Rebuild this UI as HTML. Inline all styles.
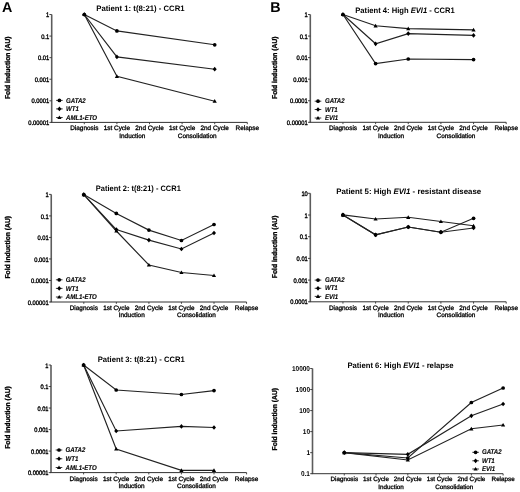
<!DOCTYPE html>
<html><head><meta charset="utf-8"><style>
html,body{margin:0;padding:0;background:#fff;}
body{width:520px;height:492px;overflow:hidden;}
svg{display:block;filter:blur(0.3px);}
text{font-family:"Liberation Sans", sans-serif;font-weight:bold;fill:#000;text-rendering:geometricPrecision;}
</style></head><body>
<svg width="520" height="492" viewBox="0 0 520 492">
<rect width="520" height="492" fill="#fff"/>
<g><path d="M51.70,14.50 V122.40" fill="none" stroke="#5c5c5c" stroke-width="1.6"/>
<path d="M50.90,122.40 H247.30" fill="none" stroke="#333" stroke-width="1"/>
<line x1="49.40" y1="14.50" x2="51.70" y2="14.50" stroke="#333" stroke-width="0.9"/>
<text x="49.20" y="17.10" text-anchor="end" font-size="6.55" textLength="3.23" lengthAdjust="spacingAndGlyphs" style="font-weight:normal;stroke:#000;stroke-width:0.35">1</text>
<line x1="49.40" y1="36.08" x2="51.70" y2="36.08" stroke="#333" stroke-width="0.9"/>
<text x="49.20" y="38.68" text-anchor="end" font-size="6.55" textLength="8.06" lengthAdjust="spacingAndGlyphs" style="font-weight:normal;stroke:#000;stroke-width:0.35">0.1</text>
<line x1="49.40" y1="57.66" x2="51.70" y2="57.66" stroke="#333" stroke-width="0.9"/>
<text x="49.20" y="60.26" text-anchor="end" font-size="6.55" textLength="11.29" lengthAdjust="spacingAndGlyphs" style="font-weight:normal;stroke:#000;stroke-width:0.35">0.01</text>
<line x1="49.40" y1="79.24" x2="51.70" y2="79.24" stroke="#333" stroke-width="0.9"/>
<text x="49.20" y="81.84" text-anchor="end" font-size="6.55" textLength="14.51" lengthAdjust="spacingAndGlyphs" style="font-weight:normal;stroke:#000;stroke-width:0.35">0.001</text>
<line x1="49.40" y1="100.82" x2="51.70" y2="100.82" stroke="#333" stroke-width="0.9"/>
<text x="49.20" y="103.42" text-anchor="end" font-size="6.55" textLength="17.74" lengthAdjust="spacingAndGlyphs" style="font-weight:normal;stroke:#000;stroke-width:0.35">0.0001</text>
<line x1="49.40" y1="122.40" x2="51.70" y2="122.40" stroke="#333" stroke-width="0.9"/>
<text x="49.20" y="125.00" text-anchor="end" font-size="6.55" textLength="20.96" lengthAdjust="spacingAndGlyphs" style="font-weight:normal;stroke:#000;stroke-width:0.35">0.00001</text>
<line x1="84.30" y1="122.40" x2="84.30" y2="124.20" stroke="#333" stroke-width="0.9"/>
<line x1="116.90" y1="122.40" x2="116.90" y2="124.20" stroke="#333" stroke-width="0.9"/>
<line x1="149.50" y1="122.40" x2="149.50" y2="124.20" stroke="#333" stroke-width="0.9"/>
<line x1="182.10" y1="122.40" x2="182.10" y2="124.20" stroke="#333" stroke-width="0.9"/>
<line x1="214.70" y1="122.40" x2="214.70" y2="124.20" stroke="#333" stroke-width="0.9"/>
<line x1="247.30" y1="122.40" x2="247.30" y2="124.20" stroke="#333" stroke-width="0.9"/>
<text x="84.30" y="130.40" text-anchor="middle" font-size="6.42" style="font-weight:normal;stroke:#000;stroke-width:0.3">Diagnosis</text>
<text x="116.90" y="130.40" text-anchor="middle" font-size="6.42" style="font-weight:normal;stroke:#000;stroke-width:0.3">1st Cycle</text>
<text x="149.50" y="130.40" text-anchor="middle" font-size="6.42" style="font-weight:normal;stroke:#000;stroke-width:0.3">2nd Cycle</text>
<text x="182.10" y="130.40" text-anchor="middle" font-size="6.42" style="font-weight:normal;stroke:#000;stroke-width:0.3">1st Cycle</text>
<text x="214.70" y="130.40" text-anchor="middle" font-size="6.42" style="font-weight:normal;stroke:#000;stroke-width:0.3">2nd Cycle</text>
<text x="247.30" y="130.40" text-anchor="middle" font-size="6.42" style="font-weight:normal;stroke:#000;stroke-width:0.3">Relapse</text>
<text x="132.30" y="137.80" text-anchor="middle" font-size="6.42" style="font-weight:normal;stroke:#000;stroke-width:0.3">Induction</text>
<text x="197.20" y="137.80" text-anchor="middle" font-size="6.42" style="font-weight:normal;stroke:#000;stroke-width:0.3">Consolidation</text>
<text transform="translate(9.70,67.80) rotate(-90) scale(1,1.05)" text-anchor="middle" font-size="6.75" style="stroke:#000;stroke-width:0.3">Fold induction (AU)</text>
<text x="96.30" y="11.40" font-size="7.9" textLength="88.3" lengthAdjust="spacingAndGlyphs"><tspan>Patient 1: t(8:21) - CCR1</tspan></text>
<path d="M84.30,14.50 L116.90,30.90 L214.70,44.80" fill="none" stroke="#222" stroke-width="1.15"/>
<path d="M84.30,14.50 L116.90,56.90 L214.70,69.20" fill="none" stroke="#222" stroke-width="1.15"/>
<path d="M84.30,14.50 L116.90,76.30 L214.70,101.20" fill="none" stroke="#222" stroke-width="1.15"/>
<circle cx="84.30" cy="14.50" r="1.85" fill="#000"/>
<circle cx="116.90" cy="30.90" r="1.85" fill="#000"/>
<circle cx="214.70" cy="44.80" r="1.85" fill="#000"/>
<path d="M84.30,12.15 L86.30,14.50 L84.30,16.85 L82.30,14.50 Z" fill="#000"/>
<path d="M116.90,54.55 L118.90,56.90 L116.90,59.25 L114.90,56.90 Z" fill="#000"/>
<path d="M214.70,66.85 L216.70,69.20 L214.70,71.55 L212.70,69.20 Z" fill="#000"/>
<path d="M84.30,12.40 L86.40,16.07 L82.20,16.07 Z" fill="#000"/>
<path d="M116.90,74.20 L119.00,77.88 L114.80,77.88 Z" fill="#000"/>
<path d="M214.70,99.10 L216.80,102.78 L212.60,102.78 Z" fill="#000"/>
<line x1="56.10" y1="100.40" x2="62.70" y2="100.40" stroke="#222" stroke-width="0.9"/>
<circle cx="59.40" cy="100.40" r="1.85" fill="#000"/>
<text x="66.00" y="102.50" font-size="6.83" textLength="19.77" lengthAdjust="spacingAndGlyphs" font-style="italic" style="stroke:#000;stroke-width:0.12">GATA2</text>
<line x1="56.10" y1="108.90" x2="62.70" y2="108.90" stroke="#222" stroke-width="0.9"/>
<path d="M59.40,106.55 L61.40,108.90 L59.40,111.25 L57.40,108.90 Z" fill="#000"/>
<text x="66.00" y="111.00" font-size="6.83" textLength="12.88" lengthAdjust="spacingAndGlyphs" font-style="italic" style="stroke:#000;stroke-width:0.12">WT1</text>
<line x1="56.10" y1="117.50" x2="62.70" y2="117.50" stroke="#222" stroke-width="0.9"/>
<path d="M59.40,115.40 L61.50,119.08 L57.30,119.08 Z" fill="#000"/>
<text x="66.00" y="119.60" font-size="6.83" textLength="31.06" lengthAdjust="spacingAndGlyphs" font-style="italic" style="stroke:#000;stroke-width:0.12">AML1-ETO</text>
<text x="2.00" y="12.00" font-size="14.3">A</text></g>
<g><path d="M51.25,194.40 V302.00" fill="none" stroke="#5c5c5c" stroke-width="1.6"/>
<path d="M50.45,302.00 H246.55" fill="none" stroke="#333" stroke-width="1"/>
<line x1="48.95" y1="194.40" x2="51.25" y2="194.40" stroke="#333" stroke-width="0.9"/>
<text x="48.75" y="197.00" text-anchor="end" font-size="6.55" textLength="3.23" lengthAdjust="spacingAndGlyphs" style="font-weight:normal;stroke:#000;stroke-width:0.35">1</text>
<line x1="48.95" y1="215.92" x2="51.25" y2="215.92" stroke="#333" stroke-width="0.9"/>
<text x="48.75" y="218.52" text-anchor="end" font-size="6.55" textLength="8.06" lengthAdjust="spacingAndGlyphs" style="font-weight:normal;stroke:#000;stroke-width:0.35">0.1</text>
<line x1="48.95" y1="237.44" x2="51.25" y2="237.44" stroke="#333" stroke-width="0.9"/>
<text x="48.75" y="240.04" text-anchor="end" font-size="6.55" textLength="11.29" lengthAdjust="spacingAndGlyphs" style="font-weight:normal;stroke:#000;stroke-width:0.35">0.01</text>
<line x1="48.95" y1="258.96" x2="51.25" y2="258.96" stroke="#333" stroke-width="0.9"/>
<text x="48.75" y="261.56" text-anchor="end" font-size="6.55" textLength="14.51" lengthAdjust="spacingAndGlyphs" style="font-weight:normal;stroke:#000;stroke-width:0.35">0.001</text>
<line x1="48.95" y1="280.48" x2="51.25" y2="280.48" stroke="#333" stroke-width="0.9"/>
<text x="48.75" y="283.08" text-anchor="end" font-size="6.55" textLength="17.74" lengthAdjust="spacingAndGlyphs" style="font-weight:normal;stroke:#000;stroke-width:0.35">0.0001</text>
<line x1="48.95" y1="302.00" x2="51.25" y2="302.00" stroke="#333" stroke-width="0.9"/>
<text x="48.75" y="304.60" text-anchor="end" font-size="6.55" textLength="20.96" lengthAdjust="spacingAndGlyphs" style="font-weight:normal;stroke:#000;stroke-width:0.35">0.00001</text>
<line x1="83.80" y1="302.00" x2="83.80" y2="303.80" stroke="#333" stroke-width="0.9"/>
<line x1="116.35" y1="302.00" x2="116.35" y2="303.80" stroke="#333" stroke-width="0.9"/>
<line x1="148.90" y1="302.00" x2="148.90" y2="303.80" stroke="#333" stroke-width="0.9"/>
<line x1="181.45" y1="302.00" x2="181.45" y2="303.80" stroke="#333" stroke-width="0.9"/>
<line x1="214.00" y1="302.00" x2="214.00" y2="303.80" stroke="#333" stroke-width="0.9"/>
<line x1="246.55" y1="302.00" x2="246.55" y2="303.80" stroke="#333" stroke-width="0.9"/>
<text x="83.80" y="310.00" text-anchor="middle" font-size="6.42" style="font-weight:normal;stroke:#000;stroke-width:0.3">Diagnosis</text>
<text x="116.35" y="310.00" text-anchor="middle" font-size="6.42" style="font-weight:normal;stroke:#000;stroke-width:0.3">1st Cycle</text>
<text x="148.90" y="310.00" text-anchor="middle" font-size="6.42" style="font-weight:normal;stroke:#000;stroke-width:0.3">2nd Cycle</text>
<text x="181.45" y="310.00" text-anchor="middle" font-size="6.42" style="font-weight:normal;stroke:#000;stroke-width:0.3">1st Cycle</text>
<text x="214.00" y="310.00" text-anchor="middle" font-size="6.42" style="font-weight:normal;stroke:#000;stroke-width:0.3">2nd Cycle</text>
<text x="246.55" y="310.00" text-anchor="middle" font-size="6.42" style="font-weight:normal;stroke:#000;stroke-width:0.3">Relapse</text>
<text x="131.72" y="317.40" text-anchor="middle" font-size="6.42" style="font-weight:normal;stroke:#000;stroke-width:0.3">Induction</text>
<text x="196.53" y="317.40" text-anchor="middle" font-size="6.42" style="font-weight:normal;stroke:#000;stroke-width:0.3">Consolidation</text>
<text transform="translate(9.70,247.30) rotate(-90) scale(1,1.05)" text-anchor="middle" font-size="6.75" style="stroke:#000;stroke-width:0.3">Fold induction (AU)</text>
<text x="95.80" y="191.40" font-size="7.9" textLength="85.0" lengthAdjust="spacingAndGlyphs"><tspan>Patient 2: t(8:21) - CCR1</tspan></text>
<path d="M83.80,194.60 L116.35,213.40 L148.90,230.10 L181.45,240.50 L214.00,224.50" fill="none" stroke="#222" stroke-width="1.15"/>
<path d="M83.80,194.60 L116.35,229.60 L148.90,240.10 L181.45,249.00 L214.00,233.00" fill="none" stroke="#222" stroke-width="1.15"/>
<path d="M83.80,194.60 L116.35,231.00 L148.90,265.00 L181.45,272.50 L214.00,275.50" fill="none" stroke="#222" stroke-width="1.15"/>
<circle cx="83.80" cy="194.60" r="1.85" fill="#000"/>
<circle cx="116.35" cy="213.40" r="1.85" fill="#000"/>
<circle cx="148.90" cy="230.10" r="1.85" fill="#000"/>
<circle cx="181.45" cy="240.50" r="1.85" fill="#000"/>
<circle cx="214.00" cy="224.50" r="1.85" fill="#000"/>
<path d="M83.80,192.25 L85.80,194.60 L83.80,196.95 L81.80,194.60 Z" fill="#000"/>
<path d="M116.35,227.25 L118.35,229.60 L116.35,231.95 L114.35,229.60 Z" fill="#000"/>
<path d="M148.90,237.75 L150.90,240.10 L148.90,242.45 L146.90,240.10 Z" fill="#000"/>
<path d="M181.45,246.65 L183.45,249.00 L181.45,251.35 L179.45,249.00 Z" fill="#000"/>
<path d="M214.00,230.65 L216.00,233.00 L214.00,235.35 L212.00,233.00 Z" fill="#000"/>
<path d="M83.80,192.50 L85.90,196.17 L81.70,196.17 Z" fill="#000"/>
<path d="M116.35,228.90 L118.45,232.57 L114.25,232.57 Z" fill="#000"/>
<path d="M148.90,262.90 L151.00,266.57 L146.80,266.57 Z" fill="#000"/>
<path d="M181.45,270.40 L183.55,274.07 L179.35,274.07 Z" fill="#000"/>
<path d="M214.00,273.40 L216.10,277.07 L211.90,277.07 Z" fill="#000"/>
<line x1="55.90" y1="279.80" x2="62.50" y2="279.80" stroke="#222" stroke-width="0.9"/>
<circle cx="59.20" cy="279.80" r="1.85" fill="#000"/>
<text x="65.80" y="281.90" font-size="6.83" textLength="19.77" lengthAdjust="spacingAndGlyphs" font-style="italic" style="stroke:#000;stroke-width:0.12">GATA2</text>
<line x1="55.90" y1="288.40" x2="62.50" y2="288.40" stroke="#222" stroke-width="0.9"/>
<path d="M59.20,286.05 L61.20,288.40 L59.20,290.75 L57.20,288.40 Z" fill="#000"/>
<text x="65.80" y="290.50" font-size="6.83" textLength="12.88" lengthAdjust="spacingAndGlyphs" font-style="italic" style="stroke:#000;stroke-width:0.12">WT1</text>
<line x1="55.90" y1="297.00" x2="62.50" y2="297.00" stroke="#222" stroke-width="0.9"/>
<path d="M59.20,294.90 L61.30,298.57 L57.10,298.57 Z" fill="#000"/>
<text x="65.80" y="299.10" font-size="6.83" textLength="31.06" lengthAdjust="spacingAndGlyphs" font-style="italic" style="stroke:#000;stroke-width:0.12">AML1-ETO</text></g>
<g><path d="M51.00,365.00 V472.60" fill="none" stroke="#5c5c5c" stroke-width="1.6"/>
<path d="M50.20,472.60 H246.60" fill="none" stroke="#333" stroke-width="1"/>
<line x1="48.70" y1="365.00" x2="51.00" y2="365.00" stroke="#333" stroke-width="0.9"/>
<text x="48.50" y="367.60" text-anchor="end" font-size="6.44" textLength="3.17" lengthAdjust="spacingAndGlyphs" style="font-weight:normal;stroke:#000;stroke-width:0.35">1</text>
<line x1="48.70" y1="386.52" x2="51.00" y2="386.52" stroke="#333" stroke-width="0.9"/>
<text x="48.50" y="389.12" text-anchor="end" font-size="6.44" textLength="7.92" lengthAdjust="spacingAndGlyphs" style="font-weight:normal;stroke:#000;stroke-width:0.35">0.1</text>
<line x1="48.70" y1="408.04" x2="51.00" y2="408.04" stroke="#333" stroke-width="0.9"/>
<text x="48.50" y="410.64" text-anchor="end" font-size="6.44" textLength="11.09" lengthAdjust="spacingAndGlyphs" style="font-weight:normal;stroke:#000;stroke-width:0.35">0.01</text>
<line x1="48.70" y1="429.56" x2="51.00" y2="429.56" stroke="#333" stroke-width="0.9"/>
<text x="48.50" y="432.16" text-anchor="end" font-size="6.44" textLength="14.26" lengthAdjust="spacingAndGlyphs" style="font-weight:normal;stroke:#000;stroke-width:0.35">0.001</text>
<line x1="48.70" y1="451.08" x2="51.00" y2="451.08" stroke="#333" stroke-width="0.9"/>
<text x="48.50" y="453.68" text-anchor="end" font-size="6.44" textLength="17.43" lengthAdjust="spacingAndGlyphs" style="font-weight:normal;stroke:#000;stroke-width:0.35">0.0001</text>
<line x1="48.70" y1="472.60" x2="51.00" y2="472.60" stroke="#333" stroke-width="0.9"/>
<text x="48.50" y="475.20" text-anchor="end" font-size="6.44" textLength="20.60" lengthAdjust="spacingAndGlyphs" style="font-weight:normal;stroke:#000;stroke-width:0.35">0.00001</text>
<line x1="83.60" y1="472.60" x2="83.60" y2="474.40" stroke="#333" stroke-width="0.9"/>
<line x1="116.20" y1="472.60" x2="116.20" y2="474.40" stroke="#333" stroke-width="0.9"/>
<line x1="148.80" y1="472.60" x2="148.80" y2="474.40" stroke="#333" stroke-width="0.9"/>
<line x1="181.40" y1="472.60" x2="181.40" y2="474.40" stroke="#333" stroke-width="0.9"/>
<line x1="214.00" y1="472.60" x2="214.00" y2="474.40" stroke="#333" stroke-width="0.9"/>
<line x1="246.60" y1="472.60" x2="246.60" y2="474.40" stroke="#333" stroke-width="0.9"/>
<text x="83.60" y="480.60" text-anchor="middle" font-size="6.42" style="font-weight:normal;stroke:#000;stroke-width:0.3">Diagnosis</text>
<text x="116.20" y="480.60" text-anchor="middle" font-size="6.42" style="font-weight:normal;stroke:#000;stroke-width:0.3">1st Cycle</text>
<text x="148.80" y="480.60" text-anchor="middle" font-size="6.42" style="font-weight:normal;stroke:#000;stroke-width:0.3">2nd Cycle</text>
<text x="181.40" y="480.60" text-anchor="middle" font-size="6.42" style="font-weight:normal;stroke:#000;stroke-width:0.3">1st Cycle</text>
<text x="214.00" y="480.60" text-anchor="middle" font-size="6.42" style="font-weight:normal;stroke:#000;stroke-width:0.3">2nd Cycle</text>
<text x="246.60" y="480.60" text-anchor="middle" font-size="6.42" style="font-weight:normal;stroke:#000;stroke-width:0.3">Relapse</text>
<text x="131.60" y="488.00" text-anchor="middle" font-size="6.42" style="font-weight:normal;stroke:#000;stroke-width:0.3">Induction</text>
<text x="196.50" y="488.00" text-anchor="middle" font-size="6.42" style="font-weight:normal;stroke:#000;stroke-width:0.3">Consolidation</text>
<text transform="translate(9.70,417.50) rotate(-90) scale(1,1.05)" text-anchor="middle" font-size="6.75" style="stroke:#000;stroke-width:0.3">Fold induction (AU)</text>
<text x="97.70" y="362.10" font-size="7.9" textLength="87.1" lengthAdjust="spacingAndGlyphs"><tspan>Patient 3: t(8:21) - CCR1</tspan></text>
<path d="M83.60,365.00 L116.20,390.00 L181.40,394.50 L214.00,390.60" fill="none" stroke="#222" stroke-width="1.15"/>
<path d="M83.60,365.00 L116.20,431.00 L181.40,426.40 L214.00,427.50" fill="none" stroke="#222" stroke-width="1.15"/>
<path d="M83.60,365.00 L116.20,449.00 L181.40,470.40 L214.00,470.40" fill="none" stroke="#222" stroke-width="1.15"/>
<circle cx="83.60" cy="365.00" r="1.85" fill="#000"/>
<circle cx="116.20" cy="390.00" r="1.85" fill="#000"/>
<circle cx="181.40" cy="394.50" r="1.85" fill="#000"/>
<circle cx="214.00" cy="390.60" r="1.85" fill="#000"/>
<path d="M83.60,362.65 L85.60,365.00 L83.60,367.35 L81.60,365.00 Z" fill="#000"/>
<path d="M116.20,428.65 L118.20,431.00 L116.20,433.35 L114.20,431.00 Z" fill="#000"/>
<path d="M181.40,424.05 L183.40,426.40 L181.40,428.75 L179.40,426.40 Z" fill="#000"/>
<path d="M214.00,425.15 L216.00,427.50 L214.00,429.85 L212.00,427.50 Z" fill="#000"/>
<path d="M83.60,362.90 L85.70,366.57 L81.50,366.57 Z" fill="#000"/>
<path d="M116.20,446.90 L118.30,450.57 L114.10,450.57 Z" fill="#000"/>
<path d="M181.40,468.30 L183.50,471.97 L179.30,471.97 Z" fill="#000"/>
<path d="M214.00,468.30 L216.10,471.97 L211.90,471.97 Z" fill="#000"/>
<line x1="55.70" y1="450.00" x2="62.30" y2="450.00" stroke="#222" stroke-width="0.9"/>
<circle cx="59.00" cy="450.00" r="1.85" fill="#000"/>
<text x="65.60" y="452.10" font-size="6.83" textLength="19.77" lengthAdjust="spacingAndGlyphs" font-style="italic" style="stroke:#000;stroke-width:0.12">GATA2</text>
<line x1="55.70" y1="458.75" x2="62.30" y2="458.75" stroke="#222" stroke-width="0.9"/>
<path d="M59.00,456.40 L61.00,458.75 L59.00,461.10 L57.00,458.75 Z" fill="#000"/>
<text x="65.60" y="460.85" font-size="6.83" textLength="12.88" lengthAdjust="spacingAndGlyphs" font-style="italic" style="stroke:#000;stroke-width:0.12">WT1</text>
<line x1="55.70" y1="467.50" x2="62.30" y2="467.50" stroke="#222" stroke-width="0.9"/>
<path d="M59.00,465.40 L61.10,469.07 L56.90,469.07 Z" fill="#000"/>
<text x="65.60" y="469.60" font-size="6.83" textLength="31.06" lengthAdjust="spacingAndGlyphs" font-style="italic" style="stroke:#000;stroke-width:0.12">AML1-ETO</text></g>
<g><path d="M310.30,14.50 V122.30" fill="none" stroke="#5c5c5c" stroke-width="1.6"/>
<path d="M309.50,122.30 H506.20" fill="none" stroke="#333" stroke-width="1"/>
<line x1="308.00" y1="14.50" x2="310.30" y2="14.50" stroke="#333" stroke-width="0.9"/>
<text x="307.80" y="17.10" text-anchor="end" font-size="6.55" textLength="3.23" lengthAdjust="spacingAndGlyphs" style="font-weight:normal;stroke:#000;stroke-width:0.35">1</text>
<line x1="308.00" y1="36.06" x2="310.30" y2="36.06" stroke="#333" stroke-width="0.9"/>
<text x="307.80" y="38.66" text-anchor="end" font-size="6.55" textLength="8.06" lengthAdjust="spacingAndGlyphs" style="font-weight:normal;stroke:#000;stroke-width:0.35">0.1</text>
<line x1="308.00" y1="57.62" x2="310.30" y2="57.62" stroke="#333" stroke-width="0.9"/>
<text x="307.80" y="60.22" text-anchor="end" font-size="6.55" textLength="11.29" lengthAdjust="spacingAndGlyphs" style="font-weight:normal;stroke:#000;stroke-width:0.35">0.01</text>
<line x1="308.00" y1="79.18" x2="310.30" y2="79.18" stroke="#333" stroke-width="0.9"/>
<text x="307.80" y="81.78" text-anchor="end" font-size="6.55" textLength="14.51" lengthAdjust="spacingAndGlyphs" style="font-weight:normal;stroke:#000;stroke-width:0.35">0.001</text>
<line x1="308.00" y1="100.74" x2="310.30" y2="100.74" stroke="#333" stroke-width="0.9"/>
<text x="307.80" y="103.34" text-anchor="end" font-size="6.55" textLength="17.74" lengthAdjust="spacingAndGlyphs" style="font-weight:normal;stroke:#000;stroke-width:0.35">0.0001</text>
<line x1="308.00" y1="122.30" x2="310.30" y2="122.30" stroke="#333" stroke-width="0.9"/>
<text x="307.80" y="124.90" text-anchor="end" font-size="6.55" textLength="20.96" lengthAdjust="spacingAndGlyphs" style="font-weight:normal;stroke:#000;stroke-width:0.35">0.00001</text>
<line x1="342.95" y1="122.30" x2="342.95" y2="124.10" stroke="#333" stroke-width="0.9"/>
<line x1="375.60" y1="122.30" x2="375.60" y2="124.10" stroke="#333" stroke-width="0.9"/>
<line x1="408.25" y1="122.30" x2="408.25" y2="124.10" stroke="#333" stroke-width="0.9"/>
<line x1="440.90" y1="122.30" x2="440.90" y2="124.10" stroke="#333" stroke-width="0.9"/>
<line x1="473.55" y1="122.30" x2="473.55" y2="124.10" stroke="#333" stroke-width="0.9"/>
<line x1="506.20" y1="122.30" x2="506.20" y2="124.10" stroke="#333" stroke-width="0.9"/>
<text x="342.95" y="130.30" text-anchor="middle" font-size="6.42" style="font-weight:normal;stroke:#000;stroke-width:0.3">Diagnosis</text>
<text x="375.60" y="130.30" text-anchor="middle" font-size="6.42" style="font-weight:normal;stroke:#000;stroke-width:0.3">1st Cycle</text>
<text x="408.25" y="130.30" text-anchor="middle" font-size="6.42" style="font-weight:normal;stroke:#000;stroke-width:0.3">2nd Cycle</text>
<text x="440.90" y="130.30" text-anchor="middle" font-size="6.42" style="font-weight:normal;stroke:#000;stroke-width:0.3">1st Cycle</text>
<text x="473.55" y="130.30" text-anchor="middle" font-size="6.42" style="font-weight:normal;stroke:#000;stroke-width:0.3">2nd Cycle</text>
<text x="506.20" y="130.30" text-anchor="middle" font-size="6.42" style="font-weight:normal;stroke:#000;stroke-width:0.3">Relapse</text>
<text x="391.03" y="137.70" text-anchor="middle" font-size="6.42" style="font-weight:normal;stroke:#000;stroke-width:0.3">Induction</text>
<text x="456.03" y="137.70" text-anchor="middle" font-size="6.42" style="font-weight:normal;stroke:#000;stroke-width:0.3">Consolidation</text>
<text transform="translate(277.40,67.70) rotate(-90) scale(1,1.05)" text-anchor="middle" font-size="6.75" style="stroke:#000;stroke-width:0.3">Fold induction (AU)</text>
<text x="355.30" y="13.30" font-size="7.9" textLength="99.4" lengthAdjust="spacingAndGlyphs"><tspan>Patient 4: High </tspan><tspan font-style="italic">EVI1</tspan><tspan> - CCR1</tspan></text>
<path d="M342.95,14.50 L375.60,63.60 L408.25,59.00 L473.55,59.60" fill="none" stroke="#222" stroke-width="1.15"/>
<path d="M342.95,14.50 L375.60,43.80 L408.25,33.60 L473.55,35.40" fill="none" stroke="#222" stroke-width="1.15"/>
<path d="M342.95,14.50 L375.60,25.80 L408.25,28.60 L473.55,29.90" fill="none" stroke="#222" stroke-width="1.15"/>
<circle cx="342.95" cy="14.50" r="1.85" fill="#000"/>
<circle cx="375.60" cy="63.60" r="1.85" fill="#000"/>
<circle cx="408.25" cy="59.00" r="1.85" fill="#000"/>
<circle cx="473.55" cy="59.60" r="1.85" fill="#000"/>
<path d="M342.95,12.15 L344.95,14.50 L342.95,16.85 L340.95,14.50 Z" fill="#000"/>
<path d="M375.60,41.45 L377.60,43.80 L375.60,46.15 L373.60,43.80 Z" fill="#000"/>
<path d="M408.25,31.25 L410.25,33.60 L408.25,35.95 L406.25,33.60 Z" fill="#000"/>
<path d="M473.55,33.05 L475.55,35.40 L473.55,37.75 L471.55,35.40 Z" fill="#000"/>
<path d="M342.95,12.40 L345.05,16.07 L340.85,16.07 Z" fill="#000"/>
<path d="M375.60,23.70 L377.70,27.38 L373.50,27.38 Z" fill="#000"/>
<path d="M408.25,26.50 L410.35,30.18 L406.15,30.18 Z" fill="#000"/>
<path d="M473.55,27.80 L475.65,31.47 L471.45,31.47 Z" fill="#000"/>
<line x1="314.70" y1="101.20" x2="321.30" y2="101.20" stroke="#222" stroke-width="0.9"/>
<circle cx="318.00" cy="101.20" r="1.85" fill="#000"/>
<text x="324.90" y="103.30" font-size="6.83" textLength="19.77" lengthAdjust="spacingAndGlyphs" font-style="italic" style="stroke:#000;stroke-width:0.12">GATA2</text>
<line x1="314.70" y1="109.50" x2="321.30" y2="109.50" stroke="#222" stroke-width="0.9"/>
<path d="M318.00,107.15 L320.00,109.50 L318.00,111.85 L316.00,109.50 Z" fill="#000"/>
<text x="324.90" y="111.60" font-size="6.83" textLength="12.88" lengthAdjust="spacingAndGlyphs" font-style="italic" style="stroke:#000;stroke-width:0.12">WT1</text>
<line x1="314.70" y1="118.00" x2="321.30" y2="118.00" stroke="#222" stroke-width="0.9"/>
<path d="M318.00,115.90 L320.10,119.58 L315.90,119.58 Z" fill="#000"/>
<text x="324.90" y="120.10" font-size="6.83" textLength="13.22" lengthAdjust="spacingAndGlyphs" font-style="italic" style="stroke:#000;stroke-width:0.12">EVI1</text>
<text x="270.20" y="12.00" font-size="14.3">B</text></g>
<g><path d="M310.30,193.30 V301.80" fill="none" stroke="#5c5c5c" stroke-width="1.6"/>
<path d="M309.50,301.80 H506.20" fill="none" stroke="#333" stroke-width="1"/>
<line x1="308.00" y1="193.30" x2="310.30" y2="193.30" stroke="#333" stroke-width="0.9"/>
<text x="307.80" y="195.90" text-anchor="end" font-size="6.50" textLength="6.40" lengthAdjust="spacingAndGlyphs" style="font-weight:normal;stroke:#000;stroke-width:0.35">10</text>
<line x1="308.00" y1="215.00" x2="310.30" y2="215.00" stroke="#333" stroke-width="0.9"/>
<text x="307.80" y="217.60" text-anchor="end" font-size="6.50" textLength="3.20" lengthAdjust="spacingAndGlyphs" style="font-weight:normal;stroke:#000;stroke-width:0.35">1</text>
<line x1="308.00" y1="236.70" x2="310.30" y2="236.70" stroke="#333" stroke-width="0.9"/>
<text x="307.80" y="239.30" text-anchor="end" font-size="6.50" textLength="7.99" lengthAdjust="spacingAndGlyphs" style="font-weight:normal;stroke:#000;stroke-width:0.35">0.1</text>
<line x1="308.00" y1="258.40" x2="310.30" y2="258.40" stroke="#333" stroke-width="0.9"/>
<text x="307.80" y="261.00" text-anchor="end" font-size="6.50" textLength="11.19" lengthAdjust="spacingAndGlyphs" style="font-weight:normal;stroke:#000;stroke-width:0.35">0.01</text>
<line x1="308.00" y1="280.10" x2="310.30" y2="280.10" stroke="#333" stroke-width="0.9"/>
<text x="307.80" y="282.70" text-anchor="end" font-size="6.50" textLength="14.39" lengthAdjust="spacingAndGlyphs" style="font-weight:normal;stroke:#000;stroke-width:0.35">0.001</text>
<line x1="308.00" y1="301.80" x2="310.30" y2="301.80" stroke="#333" stroke-width="0.9"/>
<text x="307.80" y="304.40" text-anchor="end" font-size="6.50" textLength="17.59" lengthAdjust="spacingAndGlyphs" style="font-weight:normal;stroke:#000;stroke-width:0.35">0.0001</text>
<line x1="342.95" y1="301.80" x2="342.95" y2="303.60" stroke="#333" stroke-width="0.9"/>
<line x1="375.60" y1="301.80" x2="375.60" y2="303.60" stroke="#333" stroke-width="0.9"/>
<line x1="408.25" y1="301.80" x2="408.25" y2="303.60" stroke="#333" stroke-width="0.9"/>
<line x1="440.90" y1="301.80" x2="440.90" y2="303.60" stroke="#333" stroke-width="0.9"/>
<line x1="473.55" y1="301.80" x2="473.55" y2="303.60" stroke="#333" stroke-width="0.9"/>
<line x1="506.20" y1="301.80" x2="506.20" y2="303.60" stroke="#333" stroke-width="0.9"/>
<text x="342.95" y="309.80" text-anchor="middle" font-size="6.42" style="font-weight:normal;stroke:#000;stroke-width:0.3">Diagnosis</text>
<text x="375.60" y="309.80" text-anchor="middle" font-size="6.42" style="font-weight:normal;stroke:#000;stroke-width:0.3">1st Cycle</text>
<text x="408.25" y="309.80" text-anchor="middle" font-size="6.42" style="font-weight:normal;stroke:#000;stroke-width:0.3">2nd Cycle</text>
<text x="440.90" y="309.80" text-anchor="middle" font-size="6.42" style="font-weight:normal;stroke:#000;stroke-width:0.3">1st Cycle</text>
<text x="473.55" y="309.80" text-anchor="middle" font-size="6.42" style="font-weight:normal;stroke:#000;stroke-width:0.3">2nd Cycle</text>
<text x="506.20" y="309.80" text-anchor="middle" font-size="6.42" style="font-weight:normal;stroke:#000;stroke-width:0.3">Relapse</text>
<text x="391.03" y="317.20" text-anchor="middle" font-size="6.42" style="font-weight:normal;stroke:#000;stroke-width:0.3">Induction</text>
<text x="456.03" y="317.20" text-anchor="middle" font-size="6.42" style="font-weight:normal;stroke:#000;stroke-width:0.3">Consolidation</text>
<text transform="translate(277.40,246.90) rotate(-90) scale(1,1.05)" text-anchor="middle" font-size="6.75" style="stroke:#000;stroke-width:0.3">Fold induction (AU)</text>
<text x="336.20" y="193.80" font-size="7.9" textLength="145.0" lengthAdjust="spacingAndGlyphs"><tspan>Patient 5: High </tspan><tspan font-style="italic">EVI1</tspan><tspan> - resistant disease</tspan></text>
<path d="M342.95,214.90 L375.60,234.80 L408.25,227.00 L440.90,232.20 L473.55,218.30" fill="none" stroke="#222" stroke-width="1.15"/>
<path d="M342.95,214.90 L375.60,234.80 L408.25,227.00 L440.90,232.20 L473.55,228.00" fill="none" stroke="#222" stroke-width="1.15"/>
<path d="M342.95,214.90 L375.60,219.00 L408.25,217.30 L440.90,221.50 L473.55,225.80" fill="none" stroke="#222" stroke-width="1.15"/>
<circle cx="342.95" cy="214.90" r="1.85" fill="#000"/>
<circle cx="375.60" cy="234.80" r="1.85" fill="#000"/>
<circle cx="408.25" cy="227.00" r="1.85" fill="#000"/>
<circle cx="440.90" cy="232.20" r="1.85" fill="#000"/>
<circle cx="473.55" cy="218.30" r="1.85" fill="#000"/>
<path d="M342.95,212.55 L344.95,214.90 L342.95,217.25 L340.95,214.90 Z" fill="#000"/>
<path d="M375.60,232.45 L377.60,234.80 L375.60,237.15 L373.60,234.80 Z" fill="#000"/>
<path d="M408.25,224.65 L410.25,227.00 L408.25,229.35 L406.25,227.00 Z" fill="#000"/>
<path d="M440.90,229.85 L442.90,232.20 L440.90,234.55 L438.90,232.20 Z" fill="#000"/>
<path d="M473.55,225.65 L475.55,228.00 L473.55,230.35 L471.55,228.00 Z" fill="#000"/>
<path d="M342.95,212.80 L345.05,216.47 L340.85,216.47 Z" fill="#000"/>
<path d="M375.60,216.90 L377.70,220.57 L373.50,220.57 Z" fill="#000"/>
<path d="M408.25,215.20 L410.35,218.88 L406.15,218.88 Z" fill="#000"/>
<path d="M440.90,219.40 L443.00,223.07 L438.80,223.07 Z" fill="#000"/>
<path d="M473.55,223.70 L475.65,227.38 L471.45,227.38 Z" fill="#000"/>
<line x1="314.70" y1="280.10" x2="321.30" y2="280.10" stroke="#222" stroke-width="0.9"/>
<circle cx="318.00" cy="280.10" r="1.85" fill="#000"/>
<text x="324.90" y="282.20" font-size="6.83" textLength="19.77" lengthAdjust="spacingAndGlyphs" font-style="italic" style="stroke:#000;stroke-width:0.12">GATA2</text>
<line x1="314.70" y1="288.30" x2="321.30" y2="288.30" stroke="#222" stroke-width="0.9"/>
<path d="M318.00,285.95 L320.00,288.30 L318.00,290.65 L316.00,288.30 Z" fill="#000"/>
<text x="324.90" y="290.40" font-size="6.83" textLength="12.88" lengthAdjust="spacingAndGlyphs" font-style="italic" style="stroke:#000;stroke-width:0.12">WT1</text>
<line x1="314.70" y1="296.40" x2="321.30" y2="296.40" stroke="#222" stroke-width="0.9"/>
<path d="M318.00,294.30 L320.10,297.97 L315.90,297.97 Z" fill="#000"/>
<text x="324.90" y="298.50" font-size="6.83" textLength="13.22" lengthAdjust="spacingAndGlyphs" font-style="italic" style="stroke:#000;stroke-width:0.12">EVI1</text></g>
<g><path d="M312.50,368.50 V473.70" fill="none" stroke="#5c5c5c" stroke-width="1.6"/>
<path d="M311.70,473.70 H503.12" fill="none" stroke="#333" stroke-width="1"/>
<line x1="310.20" y1="368.50" x2="312.50" y2="368.50" stroke="#333" stroke-width="0.9"/>
<text x="310.00" y="371.10" text-anchor="end" font-size="7.02" textLength="18.07" lengthAdjust="spacingAndGlyphs" style="font-weight:bold">10000</text>
<line x1="310.20" y1="389.54" x2="312.50" y2="389.54" stroke="#333" stroke-width="0.9"/>
<text x="310.00" y="392.14" text-anchor="end" font-size="7.02" textLength="14.46" lengthAdjust="spacingAndGlyphs" style="font-weight:bold">1000</text>
<line x1="310.20" y1="410.58" x2="312.50" y2="410.58" stroke="#333" stroke-width="0.9"/>
<text x="310.00" y="413.18" text-anchor="end" font-size="7.02" textLength="10.84" lengthAdjust="spacingAndGlyphs" style="font-weight:bold">100</text>
<line x1="310.20" y1="431.62" x2="312.50" y2="431.62" stroke="#333" stroke-width="0.9"/>
<text x="310.00" y="434.22" text-anchor="end" font-size="7.02" textLength="7.23" lengthAdjust="spacingAndGlyphs" style="font-weight:bold">10</text>
<line x1="310.20" y1="452.66" x2="312.50" y2="452.66" stroke="#333" stroke-width="0.9"/>
<text x="310.00" y="455.26" text-anchor="end" font-size="7.02" textLength="3.61" lengthAdjust="spacingAndGlyphs" style="font-weight:bold">1</text>
<line x1="310.20" y1="473.70" x2="312.50" y2="473.70" stroke="#333" stroke-width="0.9"/>
<text x="310.00" y="476.30" text-anchor="end" font-size="7.02" textLength="9.04" lengthAdjust="spacingAndGlyphs" style="font-weight:bold">0.1</text>
<line x1="344.27" y1="473.70" x2="344.27" y2="475.50" stroke="#333" stroke-width="0.9"/>
<line x1="376.04" y1="473.70" x2="376.04" y2="475.50" stroke="#333" stroke-width="0.9"/>
<line x1="407.81" y1="473.70" x2="407.81" y2="475.50" stroke="#333" stroke-width="0.9"/>
<line x1="439.58" y1="473.70" x2="439.58" y2="475.50" stroke="#333" stroke-width="0.9"/>
<line x1="471.35" y1="473.70" x2="471.35" y2="475.50" stroke="#333" stroke-width="0.9"/>
<line x1="503.12" y1="473.70" x2="503.12" y2="475.50" stroke="#333" stroke-width="0.9"/>
<text x="344.27" y="481.10" text-anchor="middle" font-size="6.29" style="font-weight:normal;stroke:#000;stroke-width:0.3">Diagnosis</text>
<text x="376.04" y="481.10" text-anchor="middle" font-size="6.29" style="font-weight:normal;stroke:#000;stroke-width:0.3">1st Cycle</text>
<text x="407.81" y="481.10" text-anchor="middle" font-size="6.29" style="font-weight:normal;stroke:#000;stroke-width:0.3">2nd Cycle</text>
<text x="439.58" y="481.10" text-anchor="middle" font-size="6.29" style="font-weight:normal;stroke:#000;stroke-width:0.3">1st Cycle</text>
<text x="471.35" y="481.10" text-anchor="middle" font-size="6.29" style="font-weight:normal;stroke:#000;stroke-width:0.3">2nd Cycle</text>
<text x="503.12" y="481.10" text-anchor="middle" font-size="6.29" style="font-weight:normal;stroke:#000;stroke-width:0.3">Relapse</text>
<text x="391.03" y="488.50" text-anchor="middle" font-size="6.29" style="font-weight:normal;stroke:#000;stroke-width:0.3">Induction</text>
<text x="454.27" y="488.50" text-anchor="middle" font-size="6.29" style="font-weight:normal;stroke:#000;stroke-width:0.3">Consolidation</text>
<text transform="translate(276.90,419.20) rotate(-90) scale(1,1.05)" text-anchor="middle" font-size="6.75" style="stroke:#000;stroke-width:0.3">Fold induction (AU)</text>
<text x="347.40" y="367.90" font-size="7.9" textLength="106.1" lengthAdjust="spacingAndGlyphs"><tspan>Patient 6: High </tspan><tspan font-style="italic">EVI1</tspan><tspan> - relapse</tspan></text>
<path d="M344.27,452.60 L407.81,458.00 L471.35,402.50 L503.12,388.00" fill="none" stroke="#222" stroke-width="1.15"/>
<path d="M344.27,452.60 L407.81,454.30 L471.35,415.80 L503.12,404.00" fill="none" stroke="#222" stroke-width="1.15"/>
<path d="M344.27,452.60 L407.81,460.00 L471.35,428.80 L503.12,425.00" fill="none" stroke="#222" stroke-width="1.15"/>
<circle cx="344.27" cy="452.60" r="1.85" fill="#000"/>
<circle cx="407.81" cy="458.00" r="1.85" fill="#000"/>
<circle cx="471.35" cy="402.50" r="1.85" fill="#000"/>
<circle cx="503.12" cy="388.00" r="1.85" fill="#000"/>
<path d="M344.27,450.25 L346.27,452.60 L344.27,454.95 L342.27,452.60 Z" fill="#000"/>
<path d="M407.81,451.95 L409.81,454.30 L407.81,456.65 L405.81,454.30 Z" fill="#000"/>
<path d="M471.35,413.45 L473.35,415.80 L471.35,418.15 L469.35,415.80 Z" fill="#000"/>
<path d="M503.12,401.65 L505.12,404.00 L503.12,406.35 L501.12,404.00 Z" fill="#000"/>
<path d="M344.27,450.50 L346.37,454.18 L342.17,454.18 Z" fill="#000"/>
<path d="M407.81,457.90 L409.91,461.57 L405.71,461.57 Z" fill="#000"/>
<path d="M471.35,426.70 L473.45,430.38 L469.25,430.38 Z" fill="#000"/>
<path d="M503.12,422.90 L505.22,426.57 L501.02,426.57 Z" fill="#000"/>
<line x1="472.30" y1="452.30" x2="478.90" y2="452.30" stroke="#222" stroke-width="0.9"/>
<circle cx="475.60" cy="452.30" r="1.85" fill="#000"/>
<text x="481.90" y="454.40" font-size="6.83" textLength="19.77" lengthAdjust="spacingAndGlyphs" font-style="italic" style="stroke:#000;stroke-width:0.12">GATA2</text>
<line x1="472.30" y1="460.80" x2="478.90" y2="460.80" stroke="#222" stroke-width="0.9"/>
<path d="M475.60,458.45 L477.60,460.80 L475.60,463.15 L473.60,460.80 Z" fill="#000"/>
<text x="481.90" y="462.90" font-size="6.83" textLength="12.88" lengthAdjust="spacingAndGlyphs" font-style="italic" style="stroke:#000;stroke-width:0.12">WT1</text>
<line x1="472.30" y1="469.00" x2="478.90" y2="469.00" stroke="#222" stroke-width="0.9"/>
<path d="M475.60,466.90 L477.70,470.57 L473.50,470.57 Z" fill="#000"/>
<text x="481.90" y="471.10" font-size="6.83" textLength="13.22" lengthAdjust="spacingAndGlyphs" font-style="italic" style="stroke:#000;stroke-width:0.12">EVI1</text></g>
</svg>
</body></html>
